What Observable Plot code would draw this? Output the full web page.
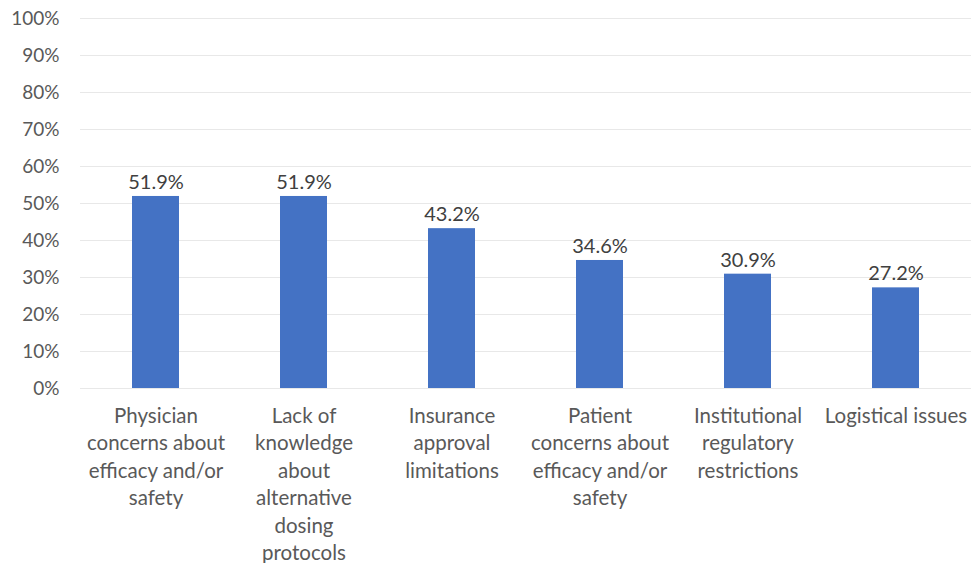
<!DOCTYPE html>
<html>
<head>
<meta charset="utf-8">
<script src="https://cdn.jsdelivr.net/npm/d3@7"></script>
<script src="https://cdn.jsdelivr.net/npm/@observablehq/plot@0.6"></script>
<style>
  html, body { margin: 0; padding: 0; background: #fff; }
  #chart svg { display: block; }
</style>
</head>
<body>
<div id="chart"></div>
<script>
const categories = [
  "Physician concerns about efficacy and/or safety",
  "Lack of knowledge about alternative dosing protocols",
  "Insurance approval limitations",
  "Patient concerns about efficacy and/or safety",
  "Institutional regulatory restrictions",
  "Logistical issues"
];
const tickLabels = [
  "Physician\nconcerns about\nefficacy and/or\nsafety",
  "Lack of\nknowledge\nabout\nalternative\ndosing\nprotocols",
  "Insurance\napproval\nlimitations",
  "Patient\nconcerns about\nefficacy and/or\nsafety",
  "Institutional\nregulatory\nrestrictions",
  "Logistical issues"
];
const values = [0.519, 0.519, 0.432, 0.346, 0.309, 0.272];
const yTicks = [0, 0.1, 0.2, 0.3, 0.4, 0.5, 0.6, 0.7, 0.8, 0.9, 1.0];

const data = categories.map((c, i) => ({category: c, value: values[i]}));
const labelOf = new Map(categories.map((c, i) => [c, tickLabels[i]]));

const chart = Plot.plot({
  width: 971,
  height: 563,
  marginLeft: 80,
  marginRight: 0,
  marginTop: 18,
  marginBottom: 175,
  style: {fontFamily: "Lato, 'Open Sans', sans-serif", fontSize: "19px", background: "#fff"},
  x: {domain: categories, paddingInner: 0.684, paddingOuter: 0.342, align: 0.5},
  y: {domain: [0, 1]},
  marks: [
    Plot.ruleY(yTicks, {stroke: "#e8e8e8", strokeWidth: 1}),
    Plot.barY(data, {x: "category", y: "value", fill: "#4472C4"}),
    Plot.text(data, {x: "category", y: "value", text: d => d3.format(".1%")(d.value), dy: -14, fill: "#404040", fontSize: 20}),
    Plot.axisY({ticks: yTicks, tickFormat: d3.format(".0%"), tickSize: 0, tickPadding: 21, fill: "#595959", fontSize: 19, label: null}),
    Plot.axisX({tickFormat: d => labelOf.get(d), tickSize: 0, tickPadding: 15, fill: "#595959", fontSize: 20.5, lineHeight: 1.34, label: null})
  ]
});
document.getElementById("chart").append(chart);
</script>
</body>
</html>
